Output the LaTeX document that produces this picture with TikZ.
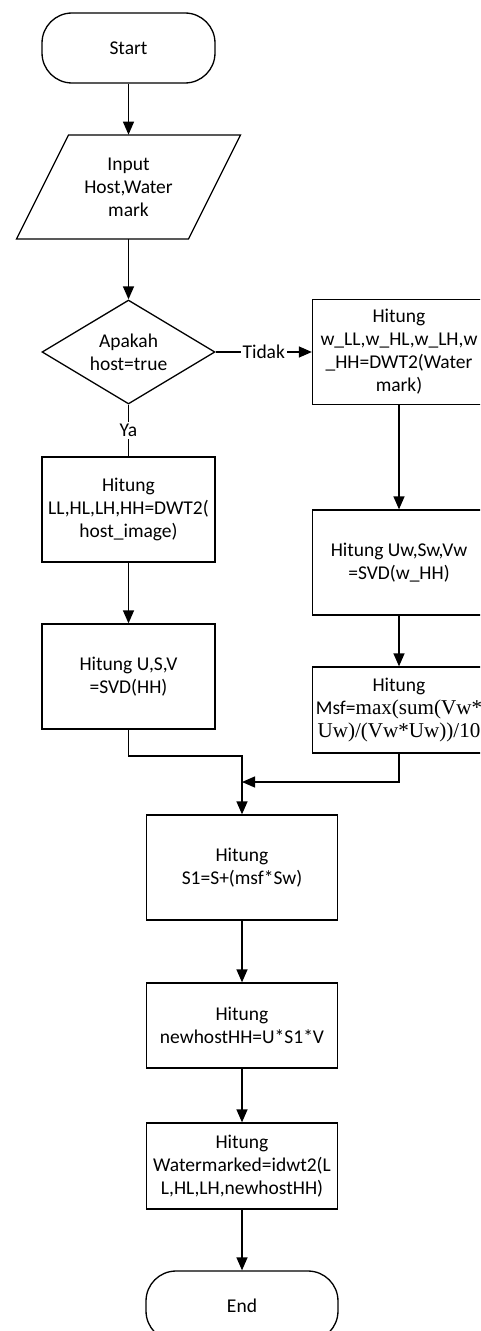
\documentclass[tikz,border=0pt]{standalone}
\usepackage{fontspec}
\setmainfont{Carlito}
\newfontfamily\timesfont{Liberation Serif}
\usetikzlibrary{arrows.meta, shapes.geometric, calc}

\newcommand{\tms}[1]{{\timesfont\fontsize{12}{13.1}\selectfont #1}}

\tikzset{
  line/.style={line width=0.75pt},
  arr/.style={line, -{Triangle[length=0.26cm,width=0.22cm]}},
  proc/.style={draw, line, minimum width=3.46cm, minimum height=2.1cm, align=center, inner sep=1pt},
  term/.style={draw, line, rounded corners=0.6cm, minimum width=3.46cm, minimum height=1.4cm, align=center},
  iobox/.style={minimum width=2.4cm, minimum height=2.08cm, align=center, inner sep=0pt},
  decision/.style={diamond, aspect=1.66, draw, line, minimum width=3.46cm, minimum height=2.08cm, inner sep=0pt, align=center},
  lbl/.style={fill=white, inner sep=1pt}
}

\begin{document}
\begin{tikzpicture}[x=0.02cm, y=-0.02cm, font=\fontsize{11.1}{13.1}\selectfont]
\useasboundingbox (0,0) rectangle (480,1331);
\clip (0,0) rectangle (480,1331);

% left column
\node[term] (start) at (128.5,48) {Start};
\node[iobox] (input) at (128.5,187) {Input\\Host,Water\\mark};
\draw[line] ($(input.center)+(-60,-52)$) -- ($(input.center)+(112,-52)$)
  -- ($(input.center)+(60,52)$) -- ($(input.center)+(-112,52)$) -- cycle;
\node[decision] (host) at (128.5,352) {Apakah\\host=true};
\node[proc] (dwt) at (128.5,509.5) {Hitung\\LL,HL,LH,HH=DWT2(\\host\_image)};
\node[proc] (svd) at (128.5,676.5) {Hitung U,S,V\\=SVD(HH)};

% right column
\node[proc] (wdwt) at (399,352) {Hitung\\w\_LL,w\_HL,w\_LH,w\\\_HH=DWT2(Water\\mark)};
\node[proc] (wsvd) at (399,562.5) {Hitung Uw,Sw,Vw\\=SVD(w\_HH)};
\node[proc, minimum height=1.72cm] (msf) at (399,710) {Hitung\\Msf=\tms{max(sum(Vw*}\\\tms{Uw)/(Vw*Uw))/10}};

% merged column
\node[proc, minimum width=3.82cm] (s1) at (242,867.5) {Hitung\\S1=S+(msf*Sw)};
\node[proc, minimum width=3.82cm, minimum height=1.7cm] (newhost) at (242,1025.5) {Hitung\\newhostHH=U*S1*V};
\node[proc, minimum width=3.82cm, minimum height=1.72cm] (wm) at (242,1166) {Hitung\\Watermarked=idwt2(L\\L,HL,LH,newhostHH)};
\node[term, minimum width=3.84cm] (end) at (242,1306) {End};

\coordinate (bend) at (128.5,756);
\coordinate (join) at (242,782);

\draw[arr] (start) -- (input.north);
\draw[arr] (input.south) -- (host);
\draw[line] (host) -- node[lbl]{Ya} (dwt);
\draw[arr] (host) -- node[lbl]{Tidak} (wdwt);
\draw[arr] (dwt) -- (svd);
\draw[arr] (wdwt) -- (wsvd);
\draw[arr] (wsvd) -- (msf);
\draw[arr] (svd.south) -- (bend) -| (s1.north);
\draw[arr] (msf.south) |- (join);
\draw[arr] (s1) -- (newhost);
\draw[arr] (newhost) -- (wm);
\draw[arr] (wm) -- (end);
\end{tikzpicture}
\end{document}
